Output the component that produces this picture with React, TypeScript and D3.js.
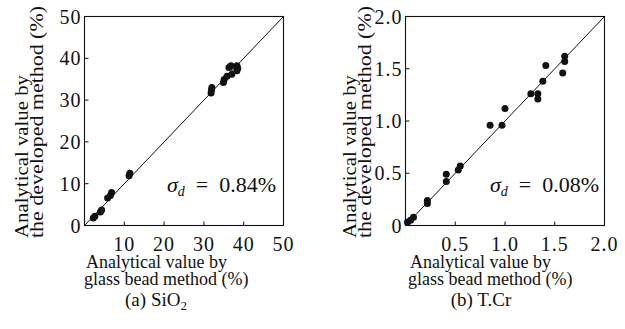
import React from "react";
import * as d3 from "d3";

// ---- Data ----
const sio2X = [2.2, 2.6, 4.0, 4.3, 5.8, 6.5, 6.8, 11.2, 11.4, 31.8, 31.9, 32.0, 34.9, 35.1, 35.8, 36.3, 36.8, 37.0, 38.3, 38.3, 38.5];
const sio2Y = [1.8, 2.2, 3.2, 3.7, 6.6, 7.2, 7.9, 11.9, 12.5, 31.7, 32.4, 33.0, 34.2, 34.9, 35.7, 37.8, 38.2, 36.2, 38.2, 37.0, 37.6];
const tcrX = [0.02, 0.05, 0.08, 0.22, 0.22, 0.41, 0.41, 0.53, 0.55, 0.85, 0.97, 1.0, 1.26, 1.33, 1.33, 1.38, 1.41, 1.58, 1.6, 1.6];
const tcrY = [0.03, 0.05, 0.08, 0.24, 0.21, 0.49, 0.42, 0.53, 0.57, 0.96, 0.96, 1.12, 1.26, 1.26, 1.21, 1.38, 1.53, 1.46, 1.62, 1.57];

const sio2XTicks = [10, 20, 30, 40, 50];
const sio2YTicks = [0, 10, 20, 30, 40, 50];
const tcrXTicks = [0.5, 1.0, 1.5, 2.0];
const tcrYTicks = [0, 0.5, 1.0, 1.5, 2.0];

const FONT = "Liberation Serif, Times New Roman, serif";

type PanelProps = {
  xs: number[];
  ys: number[];
  max: number;
  xTicks: number[];
  yTicks: number[];
  fmtX: (v: number) => string;
  fmtY: (v: number) => string;
  left: number;
  sigma: string;
  sigmaX: number;
  caption: React.ReactNode;
  captionX: number;
  yTitleX1: number;
  yTitleX2: number;
  xTitleX: number;
};

function Panel(p: PanelProps) {
  const top = 16.5;
  const bottom = 225.5;
  const width = 199;
  const x = d3.scaleLinear().domain([0, p.max]).range([p.left, p.left + width]);
  const y = d3.scaleLinear().domain([0, p.max]).range([bottom, top]);
  const tickLen = 4;
  const tfs = 20;
  return (
    <g fontFamily={FONT} fill="#111">
      <rect x={p.left} y={top} width={width} height={bottom - top} fill="none" stroke="#111" strokeWidth={1.1} />
      <line x1={x(0)} y1={y(0)} x2={x(p.max)} y2={y(p.max)} stroke="#111" strokeWidth={1} />
      {p.xTicks.filter((t) => t < p.max).map((t) => (
        <line key={"xt" + t} x1={x(t)} x2={x(t)} y1={bottom} y2={bottom - tickLen} stroke="#111" strokeWidth={1} />
      ))}
      {p.yTicks.filter((t) => t > 0 && t < p.max).map((t) => (
        <line key={"yt" + t} x1={p.left} x2={p.left + tickLen} y1={y(t)} y2={y(t)} stroke="#111" strokeWidth={1} />
      ))}
      {p.xTicks.map((t) => (
        <text key={"xl" + t} x={x(t)} y={251} textAnchor="middle" fontSize={tfs} letterSpacing={1}>
          {p.fmtX(t)}
        </text>
      ))}
      {p.yTicks.map((t) => (
        <text key={"yl" + t} x={p.left - 3} y={y(t)} dy="0.35em" textAnchor="end" fontSize={tfs} letterSpacing={1}>
          {p.fmtY(t)}
        </text>
      ))}
      {p.xs.map((v, i) => (
        <circle key={"pt" + i} cx={x(v)} cy={y(p.ys[i])} r={3.5} fill="#111" />
      ))}
      <text x={p.sigmaX} y={192} fontSize={22}>
        <tspan fontStyle="italic">σ</tspan>
        <tspan fontStyle="italic" fontSize={14} dy={4}>d</tspan>
        <tspan dy={-4}>{"\u2002=\u2002" + p.sigma}</tspan>
      </text>
      <text transform={`translate(${p.yTitleX1},238) rotate(-90)`} fontSize={19} textLength={163} lengthAdjust="spacingAndGlyphs">Analytical value by</text>
      <text transform={`translate(${p.yTitleX2},238) rotate(-90)`} fontSize={19} textLength={232} lengthAdjust="spacingAndGlyphs">the developed method (%)</text>
      <text x={p.xTitleX} y={268} fontSize={18}>Analytical value by</text>
      <text x={p.xTitleX - 2} y={285} fontSize={18}>glass bead method (%)</text>
      <text x={p.captionX} y={306} fontSize={19} textAnchor="middle">{p.caption}</text>
    </g>
  );
}

export default function App() {
  return (
    <svg width={625} height={329} style={{ position: "absolute", left: 0, top: 0, background: "#fff" }}>
      <Panel
        xs={sio2X}
        ys={sio2Y}
        max={50}
        xTicks={sio2XTicks}
        yTicks={sio2YTicks}
        fmtX={(v) => String(v)}
        fmtY={(v) => String(v)}
        left={84.5}
        sigma="0.84%"
        sigmaX={167}
        caption={<><tspan>(a) SiO</tspan><tspan fontSize={13} dy={4}>2</tspan></>}
        captionX={156}
        yTitleX1={28}
        yTitleX2={43}
        xTitleX={86}
      />
      <Panel
        xs={tcrX}
        ys={tcrY}
        max={2}
        xTicks={tcrXTicks}
        yTicks={tcrYTicks}
        fmtX={(v) => v.toFixed(1)}
        fmtY={(v) => (v === 0 ? "0" : v.toFixed(1))}
        left={405.5}
        sigma="0.08%"
        sigmaX={490}
        caption={<tspan>(b) T.Cr</tspan>}
        captionX={481}
        yTitleX1={356}
        yTitleX2={371}
        xTitleX={410}
      />
    </svg>
  );
}
